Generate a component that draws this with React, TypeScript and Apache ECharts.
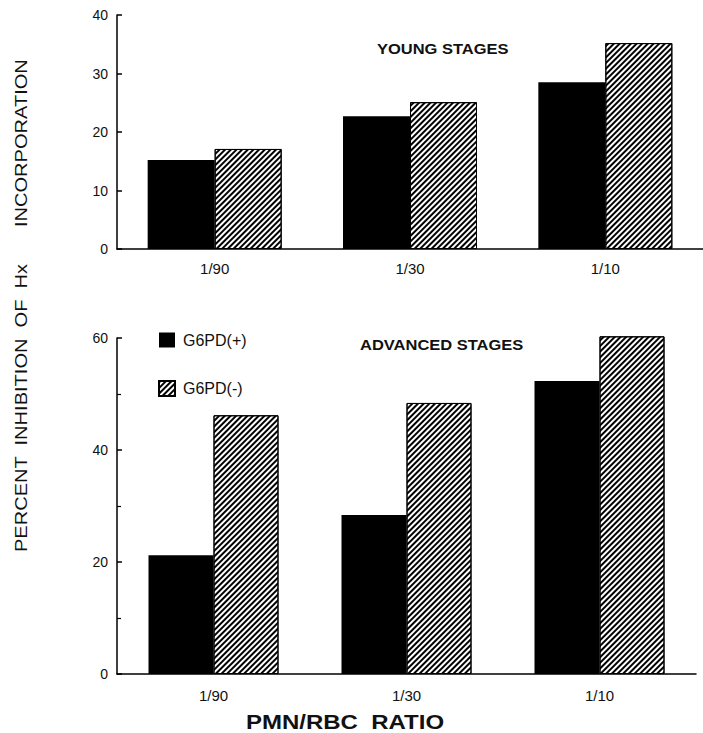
import React, { useEffect, useRef } from "react";
import * as echarts from "echarts";

const categories = ["1/90", "1/30", "1/10"];
const seriesNames = ["G6PD(+)", "G6PD(-)"];
const youngPos = [15.2, 22.7, 28.5];
const youngNeg = [17.1, 25.1, 35.2];
const advPos = [21.2, 28.4, 52.3];
const advNeg = [46.2, 48.4, 60.3];
const youngTicks = { min: 0, max: 40, interval: 10 };
const advTicks = { min: 0, max: 60, interval: 20 };
const yTitleMain = "PERCENT  INHIBITION  OF  Hx";
const yTitleEnd = "INCORPORATION";

const FONT = "Liberation Sans, Arial, Helvetica, sans-serif";

const hatch = {
  color: "#ffffff",
  borderColor: "#000",
  borderWidth: 1,
  decal: {
    symbol: "rect",
    symbolSize: 1,
    dashArrayX: [1, 0],
    dashArrayY: [2, 1.6],
    rotation: -Math.PI / 4,
    color: "#000",
    backgroundColor: "#fff",
  },
};
const solid = { color: "#000", borderColor: "#000", borderWidth: 0 };

export default function App() {
  const ref = useRef<HTMLDivElement>(null);
  useEffect(() => {
    const chart = echarts.init(ref.current!, null, { renderer: "svg" });
    const xAxisCommon = {
      type: "category",
      data: categories,
      axisLine: { lineStyle: { color: "#000", width: 1.5 } },
      axisTick: { show: false },
      axisLabel: { color: "#111", fontSize: 15, fontFamily: FONT },
    };
    const yAxisCommon = {
      type: "value",
      axisLine: { show: true, lineStyle: { color: "#000", width: 1.5 } },
      axisTick: { show: true, inside: true, length: 5, lineStyle: { color: "#000", width: 1.5 } },
      splitLine: { show: false },
      axisLabel: { color: "#111", fontSize: 14, fontFamily: FONT, margin: 9 },
    };
    const yTitleStyle = { fontSize: 17, fontFamily: FONT, fill: "#111", textAlign: "left", textVerticalAlign: "middle" };
    chart.setOption({
      animation: false,
      backgroundColor: "#fff",
      grid: [
        { left: 117, top: 15, width: 589, height: 234 },
        { left: 117, top: 338, width: 579, height: 336 },
      ],
      xAxis: [
        { ...xAxisCommon, gridIndex: 0, axisLabel: { ...xAxisCommon.axisLabel, margin: 12 } },
        { ...xAxisCommon, gridIndex: 1, axisLabel: { ...xAxisCommon.axisLabel, margin: 14 } },
      ],
      yAxis: [
        { ...yAxisCommon, gridIndex: 0, ...youngTicks },
        {
          ...yAxisCommon,
          gridIndex: 1,
          ...advTicks,
          minorTick: { show: true, splitNumber: 2, length: 4, lineStyle: { color: "#000", width: 1.2 } },
        },
      ],
      legend: {
        orient: "vertical",
        left: 153,
        top: 327,
        itemWidth: 16,
        itemHeight: 15,
        itemGap: 32,
        data: seriesNames,
        icon: "rect",
        textStyle: { color: "#111", fontSize: 16, fontFamily: FONT, padding: [0, 0, 0, 3] },
        selectedMode: false,
      },
      series: [
        { name: seriesNames[0], type: "bar", xAxisIndex: 0, yAxisIndex: 0, data: youngPos, barWidth: 67, barGap: "0%", itemStyle: solid, clip: false },
        { name: seriesNames[1], type: "bar", xAxisIndex: 0, yAxisIndex: 0, data: youngNeg, barWidth: 67, barGap: "0%", itemStyle: hatch, clip: false },
        { name: seriesNames[0], type: "bar", xAxisIndex: 1, yAxisIndex: 1, data: advPos, barWidth: 65, barGap: "0%", itemStyle: solid, clip: false },
        { name: seriesNames[1], type: "bar", xAxisIndex: 1, yAxisIndex: 1, data: advNeg, barWidth: 65, barGap: "0%", itemStyle: hatch, clip: false },
      ],
      graphic: [
        {
          type: "text",
          x: 377,
          y: 49,
          style: { text: "YOUNG STAGES", fontSize: 15, fontWeight: "bold", fontFamily: FONT, fill: "#111", textVerticalAlign: "middle" },
          scaleX: 1.1,
        },
        {
          type: "text",
          x: 360,
          y: 345,
          style: { text: "ADVANCED STAGES", fontSize: 15, fontWeight: "bold", fontFamily: FONT, fill: "#111", textVerticalAlign: "middle" },
          scaleX: 1.1,
        },
        {
          type: "text",
          x: 345,
          y: 722,
          scaleX: 1.2,
          style: { text: "PMN/RBC  RATIO", fontSize: 20, fontWeight: "bold", fontFamily: FONT, fill: "#111", textAlign: "center", textVerticalAlign: "middle" },
        },
        {
          type: "text",
          x: 21,
          y: 552,
          rotation: Math.PI / 2,
          scaleX: 1.18,
          style: { ...yTitleStyle, text: yTitleMain },
        },
        {
          type: "text",
          x: 21,
          y: 227,
          rotation: Math.PI / 2,
          scaleX: 1.18,
          style: { ...yTitleStyle, text: yTitleEnd },
        },
      ],
    });
    return () => chart.dispose();
  }, []);
  return (
    <div
      ref={ref}
      style={{ position: "fixed", left: 0, top: 0, width: 703, height: 733 }}
    />
  );
}
